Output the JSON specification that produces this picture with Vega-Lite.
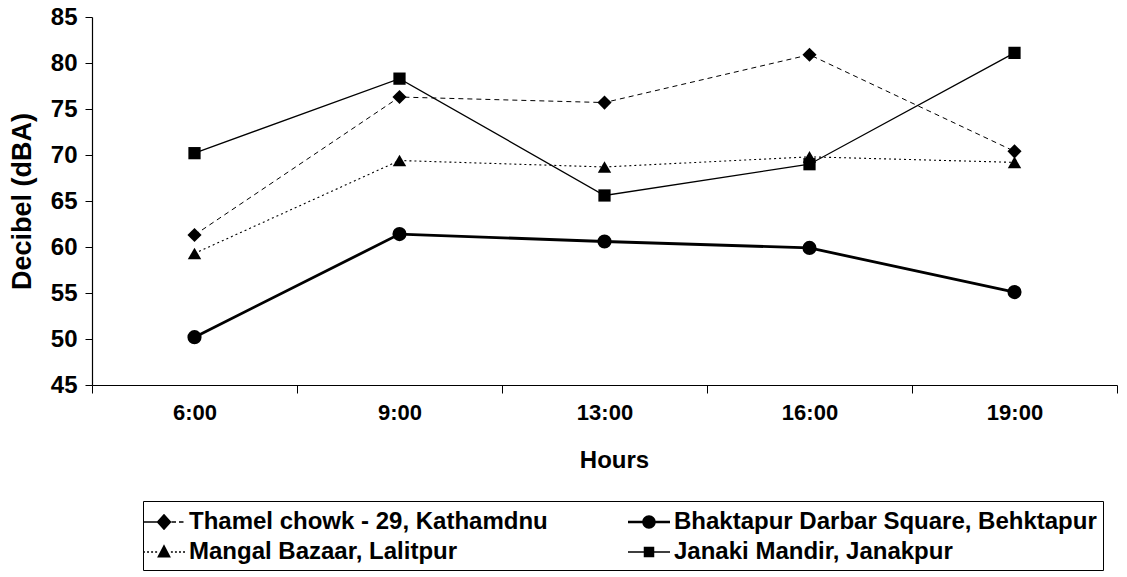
{
  "$schema": "https://vega.github.io/schema/vega-lite/v6.json",
  "autosize": "none",
  "width": 1025,
  "height": 368,
  "padding": {"left": 92, "top": 17, "right": 10, "bottom": 192},
  "background": "white",
  "config": {
    "font": "Liberation Sans",
    "view": {"stroke": null}
  },
  "data": {
    "values": [
      {"hour": "6:00", "site": "Thamel chowk - 29, Kathamdnu", "db": 61.3},
      {"hour": "9:00", "site": "Thamel chowk - 29, Kathamdnu", "db": 76.3},
      {"hour": "13:00", "site": "Thamel chowk - 29, Kathamdnu", "db": 75.7},
      {"hour": "16:00", "site": "Thamel chowk - 29, Kathamdnu", "db": 80.9},
      {"hour": "19:00", "site": "Thamel chowk - 29, Kathamdnu", "db": 70.4},
      {"hour": "6:00", "site": "Bhaktapur Darbar Square, Behktapur", "db": 50.2},
      {"hour": "9:00", "site": "Bhaktapur Darbar Square, Behktapur", "db": 61.4},
      {"hour": "13:00", "site": "Bhaktapur Darbar Square, Behktapur", "db": 60.6},
      {"hour": "16:00", "site": "Bhaktapur Darbar Square, Behktapur", "db": 59.9},
      {"hour": "19:00", "site": "Bhaktapur Darbar Square, Behktapur", "db": 55.1},
      {"hour": "6:00", "site": "Mangal Bazaar, Lalitpur", "db": 59.3},
      {"hour": "9:00", "site": "Mangal Bazaar, Lalitpur", "db": 69.4},
      {"hour": "13:00", "site": "Mangal Bazaar, Lalitpur", "db": 68.7},
      {"hour": "16:00", "site": "Mangal Bazaar, Lalitpur", "db": 69.8},
      {"hour": "19:00", "site": "Mangal Bazaar, Lalitpur", "db": 69.2},
      {"hour": "6:00", "site": "Janaki Mandir, Janakpur", "db": 70.2},
      {"hour": "9:00", "site": "Janaki Mandir, Janakpur", "db": 78.3},
      {"hour": "13:00", "site": "Janaki Mandir, Janakpur", "db": 65.6},
      {"hour": "16:00", "site": "Janaki Mandir, Janakpur", "db": 69.0},
      {"hour": "19:00", "site": "Janaki Mandir, Janakpur", "db": 81.1}
    ]
  },
  "encoding": {
    "x": {"field": "hour", "type": "ordinal", "sort": ["6:00", "9:00", "13:00", "16:00", "19:00"], "scale": {"paddingInner": 0, "paddingOuter": 0},
      "axis": {"title": "Hours", "titleX": 522, "labelAngle": 0, "tickBand": "extent", "tickSize": 8, "labelPadding": 9, "titlePadding": 25, "domainWidth": 1.2, "domainColor": "black", "tickColor": "black", "labelColor": "black", "titleColor": "black", "labelFontSize": 22, "labelFontWeight": "bold", "titleFontSize": 24, "titleFontWeight": "bold", "grid": false}},
    "y": {"field": "db", "type": "quantitative", "scale": {"domain": [45, 85], "nice": false, "zero": false},
      "axis": {"title": "Decibel (dBA)", "values": [45, 50, 55, 60, 65, 70, 75, 80, 85], "tickSize": 7, "labelPadding": 8, "titlePadding": 14, "domainWidth": 1.2, "domainColor": "black", "tickColor": "black", "labelColor": "black", "titleColor": "black", "labelFontSize": 24, "labelFontWeight": "bold", "titleFontSize": 27, "titleFontWeight": "bold", "grid": false}}
  },
  "layer": [
    {
      "transform": [{"filter": "datum.db < 0"}],
      "mark": {"type": "point", "filled": true, "fill": "black", "opacity": 1},
      "encoding": {
        "shape": {"field": "site", "type": "nominal",
          "scale": {"domain": ["Thamel chowk - 29, Kathamdnu", "Bhaktapur Darbar Square, Behktapur", "Mangal Bazaar, Lalitpur", "Janaki Mandir, Janakpur"],
            "range": [
              "M-1.4,-0.045H0V0.045H-1.4Z M0.5,-0.045H0.8V0.045H0.5Z M1.0,-0.045H1.3V0.045H1.0Z M0,-0.55L0.5,0L0,0.55L-0.5,0Z",
              "M-1.4,-0.09H1.4V0.09H-1.4Z M0.45,0A0.45,0.45,0,1,1,-0.45,0A0.45,0.45,0,1,1,0.45,0Z",
              "M-1.4,-0.045H-1.27V0.045H-1.4Z M-1.13,-0.045H-1.0V0.045H-1.13Z M-0.86,-0.045H-0.73V0.045H-0.86Z M-0.59,-0.045H-0.46V0.045H-0.59Z M0.46,-0.045H0.59V0.045H0.46Z M0.73,-0.045H0.86V0.045H0.73Z M1.0,-0.045H1.13V0.045H1.0Z M1.27,-0.045H1.4V0.045H1.27Z M0,-0.52L0.46,0.36L-0.46,0.36Z",
              "M-1.4,-0.05H1.4V0.05H-1.4Z M-0.35,-0.35H0.35V0.35H-0.35Z"
            ]},
          "legend": {
            "title": null, "orient": "none", "legendX": 51, "legendY": 484, "direction": "horizontal", "columns": 2,
            "strokeColor": "black", "padding": 6, "columnPadding": 80, "rowPadding": 3,
            "labelFontSize": 24, "labelFontWeight": "bold", "labelColor": "black", "labelLimit": 500, "labelOffset": 10,
            "symbolSize": 900, "symbolFillColor": "black", "symbolStrokeWidth": 0, "symbolOpacity": 1
          }}
      }
    },
    {
      "transform": [{"filter": "datum.site == 'Thamel chowk - 29, Kathamdnu'"}],
      "mark": {"type": "line", "color": "black", "strokeWidth": 1, "strokeDash": [5, 4], "point": {"shape": "diamond", "size": 200, "filled": true, "color": "black", "opacity": 1}}
    },
    {
      "transform": [{"filter": "datum.site == 'Bhaktapur Darbar Square, Behktapur'"}],
      "mark": {"type": "line", "color": "black", "strokeWidth": 2.8, "point": {"shape": "circle", "size": 200, "filled": true, "color": "black", "opacity": 1}}
    },
    {
      "transform": [{"filter": "datum.site == 'Mangal Bazaar, Lalitpur'"}],
      "mark": {"type": "line", "color": "black", "strokeWidth": 1.1, "strokeDash": [2, 3], "point": {"shape": "triangle-up", "size": 180, "filled": true, "color": "black", "opacity": 1}}
    },
    {
      "transform": [{"filter": "datum.site == 'Janaki Mandir, Janakpur'"}],
      "mark": {"type": "line", "color": "black", "strokeWidth": 1.3, "point": {"shape": "square", "size": 150, "filled": true, "color": "black", "opacity": 1}}
    }
  ]
}
